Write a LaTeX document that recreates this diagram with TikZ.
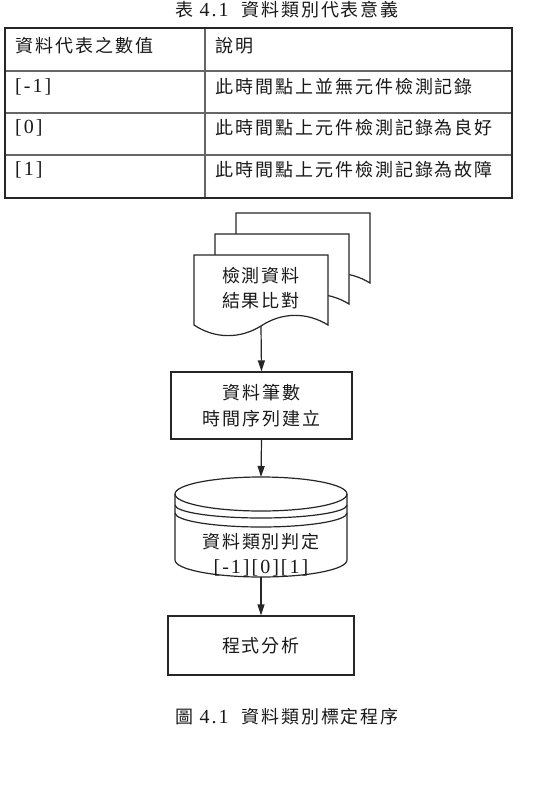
\documentclass[tikz,border=0pt]{standalone}
\usepackage{fontspec}
\setmainfont[LetterSpace=10]{Liberation Serif}
\newfontfamily\cjk[LetterSpace=11]{Noto Sans CJK TC}
\newcommand\cj[1]{{\cjk #1}}
\usetikzlibrary{arrows.meta}
\begin{document}
\begin{tikzpicture}[x=1pt,y=-1pt,
  every node/.style={font=\fontsize{18}{25}\selectfont, text=black!90},
  latn/.style={font=\fontsize{20}{25}\selectfont},
  cell/.style={anchor=west,inner sep=0pt},
  flow/.style={draw=black!85,line width=1.2pt},
  box/.style={flow,fill=white,rectangle,align=center,inner sep=0pt},
  arr/.style={-{Triangle[length=11pt,width=7pt]},line width=1.2pt,draw=black!85}]
\useasboundingbox (0,0) rectangle (545,790);

% top caption
\node[cell] (capA) at (175,10) {\cj{表}\ {\fontsize{20}{25}\selectfont 4.1}\ \ \cj{資料類別代表意義}};

% table
\draw[line width=1.3pt, black!60] (205,28) -- (205,198)
  (5,71) -- (512,71) (5,113) -- (512,113) (5,155) -- (512,155);
\draw[line width=2.2pt, black!85] (5,28) rectangle (512,198);
\node[cell] (h1) at (15,46) {\cj{資料代表之數值}};
\node[cell] (h2) at (215,46) {\cj{說明}};
\node[cell,latn] (r1a) at (15,87) {[-1]};
\node[cell] (r1b) at (215,87) {\cj{此時間點上並無元件檢測記錄}};
\node[cell,latn] (r2a) at (15,128) {[0]};
\node[cell] (r2b) at (215,128) {\cj{此時間點上元件檢測記錄為良好}};
\node[cell,latn] (r3a) at (15,170) {[1]};
\node[cell] (r3b) at (215,170) {\cj{此時間點上元件檢測記錄為故障}};

% document stack
\foreach \d in {42,21,0}{
  \begin{scope}[shift={(\d,-\d)}]
    \path[flow,fill=white] (194,325) -- (194,255) -- (328,255) -- (328,325)
      .. controls (307,312) and (282,312) .. (261,326)
      .. controls (240,339) and (215,339) .. (194,325) -- cycle;
  \end{scope}
}
\node[align=center,inner sep=0pt] (doc) at (261,288) {\cj{檢測資料}\\\cj{結果比對}};
\coordinate (docbot) at (261,326);

% box 2
\node[box,minimum width=181pt,minimum height=67pt] (b2) at (261.5,405.5)
  {\cj{資料筆數}\\[1pt]\cj{時間序列建立}};
\draw[arr] (docbot) -- (b2.south |- b2.north);

% cylinder
\path[flow,fill=white] (175,494) -- (175,560)
  arc[start angle=180,end angle=0,x radius=86,y radius=17] -- (347,494);
\draw[flow] (261,494) ellipse [x radius=86, y radius=17];
\draw[flow] (175,505) arc[start angle=180,end angle=0,x radius=86,y radius=13];
\draw[flow] (175,513) arc[start angle=180,end angle=0,x radius=86,y radius=14];
\coordinate (cyltop) at (261,477);
\coordinate (cylbot) at (261,577);
\node[align=center,inner sep=0pt] (cyl) at (261,555)
  {\cj{資料類別判定}\\{\fontsize{20}{22}\selectfont [-1][0][1]}};
\draw[arr] (b2.south) -- (cyltop);

% box 3
\node[box,minimum width=186pt,minimum height=59pt] (b3) at (261,645.5) {\cj{程式分析}};
\draw[arr] (cylbot) -- (b3.north);

% bottom caption
\node[cell] (capB) at (175,717) {\cj{圖}\ {\fontsize{20}{25}\selectfont 4.1}\ \ \cj{資料類別標定程序}};
\end{tikzpicture}
\end{document}
